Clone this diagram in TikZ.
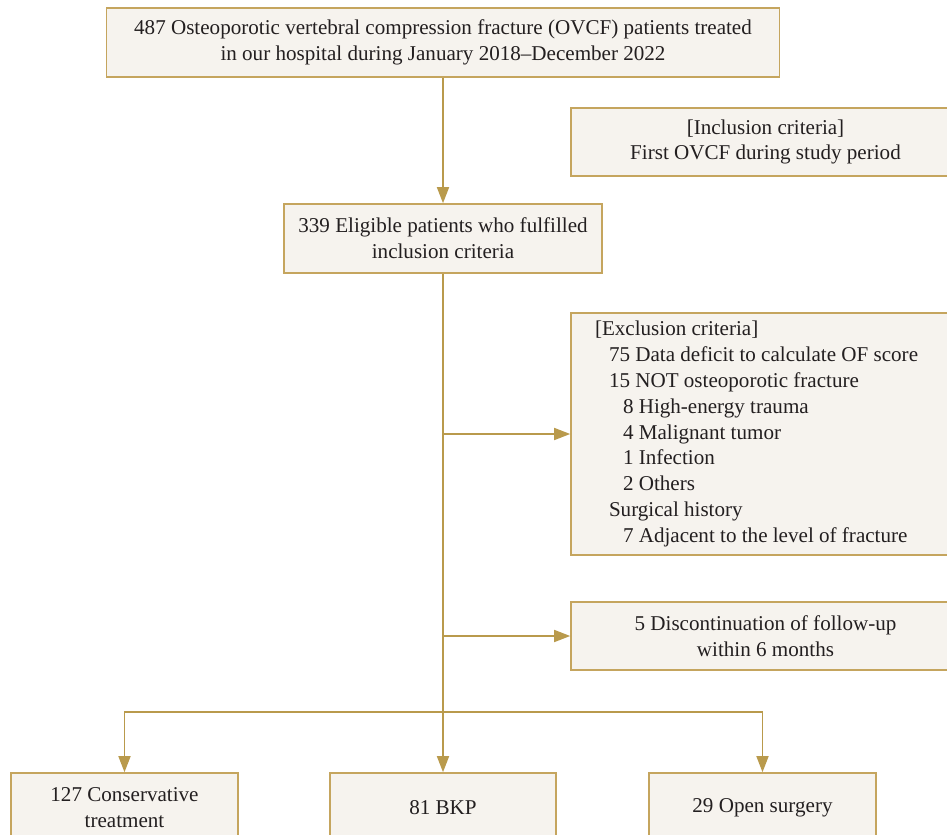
\documentclass[tikz,border=0pt]{standalone}
\usepackage{fontspec}
\setmainfont{Liberation Serif}
\usetikzlibrary{arrows.meta,positioning,calc}
\definecolor{gold}{HTML}{C5A55E}
\definecolor{darkgold}{HTML}{B99A4C}
\definecolor{pale}{HTML}{F6F3EE}
\definecolor{ink}{HTML}{231F20}
\tikzset{box/.style={draw=gold,fill=pale,line width=0.9pt,align=center,
  text=ink,font=\fontsize{12}{14.7}\selectfont,inner sep=0pt},
  flow/.style={-{Triangle[length=3.2mm,width=2.4mm]},draw=darkgold,line width=0.9pt}}
\begin{document}
\begin{tikzpicture}[x=0.02cm,y=-0.02cm]
\useasboundingbox (0,0) rectangle (947,835);
\node[box,minimum width=673*0.02cm,minimum height=69*0.02cm] (total) at (443,42.5)
  {487 Osteoporotic vertebral compression fracture (OVCF) patients treated\\in our hospital during January 2018--December 2022};
\node[box,minimum width=389*0.02cm,minimum height=68*0.02cm] (incl) at (765.5,142)
  {[Inclusion criteria]\\First OVCF during study period};
\node[box,minimum width=318*0.02cm,minimum height=69*0.02cm] (elig) at (443,238.5)
  {339 Eligible patients who fulfilled\\inclusion criteria};
\node[box,minimum width=389*0.02cm,minimum height=242*0.02cm,align=flush left,text width=341*0.02cm] (excl) at (765.5,434)
  {[Exclusion criteria]\\
  \hspace*{0.28cm}75 Data deficit to calculate OF score\\
  \hspace*{0.28cm}15 NOT osteoporotic fracture\\
  \hspace*{0.56cm}8 High-energy trauma\\
  \hspace*{0.56cm}4 Malignant tumor\\
  \hspace*{0.56cm}1 Infection\\
  \hspace*{0.56cm}2 Others\\
  \hspace*{0.28cm}Surgical history\\
  \hspace*{0.56cm}7 Adjacent to the level of fracture};
\node[box,minimum width=389*0.02cm,minimum height=68*0.02cm] (disc) at (765.5,636)
  {5 Discontinuation of follow-up\\within 6 months};
\node[box,minimum width=227*0.02cm,minimum height=70*0.02cm] (cons) at (124.5,808)
  {127 Conservative\\treatment};
\node[box,minimum width=226*0.02cm,minimum height=70*0.02cm] (bkp) at (443,808) {81 BKP};
\node[box,minimum width=227*0.02cm,minimum height=70*0.02cm] (open) at (762.5,808) {29 Open surgery};
\coordinate (split) at (443,712);
\draw[flow] (total) -- (elig);
\draw[flow] (elig) -- (bkp);
\draw[flow] (elig.south |- excl.west) -- (excl.west);
\draw[flow] (elig.south |- disc.west) -- (disc.west);
\draw[flow] (split) -| (cons.north);
\draw[flow] (split) -| (open.north);
\end{tikzpicture}
\end{document}
